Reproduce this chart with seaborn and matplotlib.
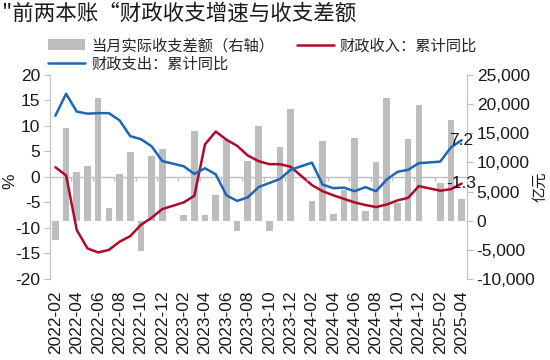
import pandas as pd
import matplotlib.pyplot as plt
import seaborn as sns
from matplotlib.patches import Patch
from matplotlib.lines import Line2D
from matplotlib.ticker import StrMethodFormatter, MultipleLocator

# -------------------------------
# Data (January not published)
# -------------------------------
months = [d.strftime("%Y-%m") for d in pd.date_range("2022-02-01", "2025-04-01", freq="MS")
          if d.month != 1]

# 财政收入：累计同比 (%)
revenue_yoy = [1.9, 0.3, -10.4, -14.0, -14.8, -14.3, -12.7, -11.6, -9.4, -8.0, -6.3,
               -5.0, -3.7, 6.4, 8.9, 7.3, 6.1, 4.2, 3.1, 2.5, 2.5, 2.0,
               -1.6, -2.8, -3.6, -4.3, -5.0, -5.5, -5.9, -5.4, -4.6, -4.1, -1.8,
               -2.7, -2.4, -1.3]

# 财政支出：累计同比 (%)
spending_yoy = [12.0, 16.3, 12.8, 12.4, 12.5, 12.5, 11.1, 8.0, 7.4, 6.0, 3.1,
                2.1, 0.6, 1.7, 0.5, -3.6, -4.7, -4.0, -2.0, -1.2, -0.4, 1.4,
                2.8, -1.5, -2.2, -2.1, -2.8, -2.0, -2.8, -0.5, 1.0, 1.4, 2.7,
                3.0, 5.8, 7.2]

# 当月实际收支差额 (亿元, 右轴)
monthly_gap = [-3260, 15810, 8300, 9330, 21030, 2250, 7950, 11720, -5230, 11150, 12290,
               1050, 15320, 1050, 4470, 13890, -1800, 10180, 16290, -1690, 12580, 19140,
               3380, 13650, 1120, 5300, 14100, 1650, 10050, 21080, 3080, 13950, 19890,
               6500, 17230, 3650]

tick_labels = [d.strftime("%Y-%m") for d in pd.date_range("2022-02-01", "2025-04-01", freq="2MS")]


def month_pos(s):
    return (int(s[:4]) - 2022) * 12 + int(s[5:7]) - 2


pos = [month_pos(m) for m in months]
tick_pos = [month_pos(m) for m in tick_labels]

# -------------------------------
# Style
# -------------------------------
sns.set_style("white")
plt.rcParams["font.family"] = ["Liberation Sans", "Noto Sans CJK SC"]
plt.rcParams["axes.unicode_minus"] = False
CJK = ["Noto Sans CJK SC", "DejaVu Sans"]

RED = "#AE0A2A"
BLUE = "#1C66B4"
BAR = "#BDBDBD"
AXIS = "#BFBFBF"
TXT = "#1a1a1a"

fig = plt.figure(figsize=(5.5, 3.6), dpi=100)
ax = fig.add_axes([0.091, 0.225, 0.758, 0.567])
ax2 = ax.twinx()

# bars on right axis
sns.barplot(x=pos, y=monthly_gap, native_scale=True, color=BAR, width=0.62,
            linewidth=0, saturation=1, ax=ax2)

# lines on left axis
sns.lineplot(x=pos, y=revenue_yoy, color=RED, linewidth=1.8, ax=ax)
sns.lineplot(x=pos, y=spending_yoy, color=BLUE, linewidth=1.8, ax=ax)

ax.set_zorder(ax2.get_zorder() + 1)
ax.patch.set_visible(False)

# axes ranges
ax.set_xlim(-0.5, pos[-1] + 0.5)
ax.set_ylim(-20, 20)
ax.yaxis.set_major_locator(MultipleLocator(5))
ax2.set_ylim(-10000, 25000)
ax2.yaxis.set_major_locator(MultipleLocator(5000))
ax2.yaxis.set_major_formatter(StrMethodFormatter("{x:,.0f}"))

# zero line with small ticks
ax.axhline(0, color=AXIS, linewidth=1, zorder=1)
ax.vlines([p - 0.5 for p in tick_pos], -0.8, 0, color=AXIS, linewidth=1)

ax.set_xticks(tick_pos)
ax.set_xticklabels(tick_labels, rotation=90)
ax.tick_params(axis="x", length=0, pad=8, labelsize=12.5, labelcolor=TXT)
ax.tick_params(axis="y", direction="out", length=4, color=AXIS, labelsize=12.5,
               labelcolor=TXT, pad=3)
ax2.tick_params(axis="y", direction="out", length=4, color=AXIS, labelsize=12.5,
                labelcolor=TXT, pad=3)

for a in (ax, ax2):
    for side in ("top", "bottom"):
        a.spines[side].set_visible(False)
    a.spines["left"].set_color(AXIS)
    a.spines["right"].set_color(AXIS)
    a.set_xlabel("")
ax.spines["right"].set_visible(False)
ax2.spines["left"].set_visible(False)

ax.set_ylabel("%", fontsize=12.5, color=TXT)
ax.yaxis.set_label_coords(-0.078, 0.48)
ax2.set_ylabel("亿元", fontsize=11, color=TXT, family=CJK)
ax2.yaxis.set_label_coords(1.155, 0.45)

# end labels
ax.text(pos[-1], spending_yoy[-1], f"{spending_yoy[-1]:.1f}", ha="center", va="center",
        fontsize=12.5, color=TXT)
ax.text(pos[-1], revenue_yoy[-1], f"{revenue_yoy[-1]:.1f}", ha="center", va="center",
        fontsize=12.5, color=TXT)

# legend
for a in (ax, ax2):
    if a.get_legend() is not None:
        a.get_legend().remove()
handles = [Patch(facecolor=BAR, edgecolor="none"),
           Line2D([0], [0], color=BLUE, linewidth=1.8),
           Line2D([0], [0], color=RED, linewidth=1.8)]
labels = ["当月实际收支差额（右轴）", "财政支出：累计同比", "财政收入：累计同比"]
fig.legend(handles, labels, loc="upper left", bbox_to_anchor=(0.088, 0.897), ncol=2,
           frameon=False, prop={"family": CJK, "size": 11}, handlelength=2.4,
           handletextpad=0.4, columnspacing=1.5, labelspacing=0.1,
           borderpad=0, borderaxespad=0)

fig.text(0.004, 0.963, "\"前两本账“财政收支增速与收支差额", fontsize=15.5,
         family=CJK, color=TXT, va="center", ha="left")

fig.savefig("out.png", dpi=100)
